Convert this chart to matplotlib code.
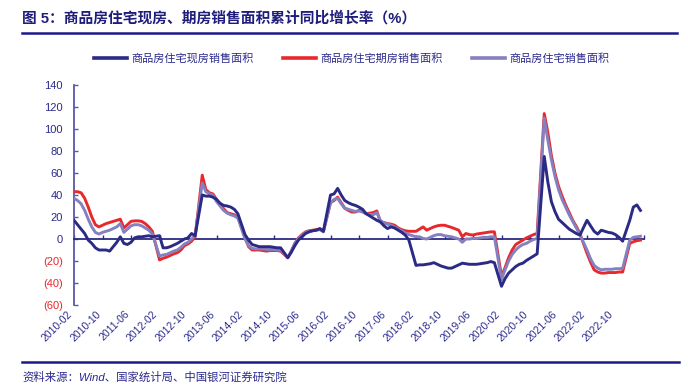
import numpy as np
import pandas as pd
import matplotlib
matplotlib.use('Agg')
import matplotlib.pyplot as plt

plt.rcParams['font.family'] = ['Liberation Sans', 'Noto Sans CJK SC']
plt.rcParams['axes.unicode_minus'] = False

# monthly data, Jan is not published (Jan-Feb combined), so Feb..Dec per year
months = [m for m in pd.period_range('2010-02', '2023-05', freq='M') if m.month != 1]

xianfang = [  # 商品房住宅现房销售面积
    17, 13, 9, 5, -1, -4, -8, -10, -10, -10, -11,            # 2010
    -3, 2, -4, -5, -3, 1, 2, 2, 2.5, 3, 2,                    # 2011
    3, -8, -8, -7, -5.5, -4, -2, 0, 1, 5, 3,                  # 2012
    40, 39, 39, 38, 36, 32.5, 30.5, 30, 29, 27, 23,           # 2013
    4, -1, -5, -6, -7, -7, -7, -7, -7.5, -8, -8,              # 2014
    -17, -12, -6, -1, 2, 5, 6.5, 7.5, 8, 9.5, 7,              # 2015
    40, 41, 46, 40, 35, 33, 31.5, 30.5, 29, 27, 23,           # 2016
    19, 17, 15.5, 12, 9.5, 11, 10, 8, 6, 3.5, -1,             # 2017
    -24, -23.5, -23.5, -23, -22.5, -21.5, -23, -24.5, -25.5, -26.5, -26.5,  # 2018
    -23.5, -22, -22.5, -23, -23, -23, -22.5, -22, -21.5, -20.5, -21.5,      # 2019
    -43, -36, -31, -28, -25, -23, -22, -19.5, -17.5, -15.5, -13.5,          # 2020
    75, 52, 34, 25, 18, 15, 12, 9, 7, 5, 3.5,                 # 2021
    17, 12, 7, 4.5, 8, 7, 6, 5.5, 4, 1.5, -2,                 # 2022
    17, 29, 31, 26,                                           # 2023
]
qifang = [  # 商品房住宅期房销售面积
    43, 43, 42, 37, 29, 20, 13, 11, 12.5, 14, 15,
    17, 18, 10, 13, 16, 16.5, 16.5, 16, 14, 11, 7,
    -19, -17.5, -16.5, -15, -13.5, -12.5, -10, -6, -4.5, -2, 2,
    58, 45, 42, 41, 36, 31, 27.5, 24, 23, 22, 20,
    2, -7, -10, -10, -10, -10.5, -11, -10.5, -10.5, -10.5, -11,
    -17, -11, -4, 1, 4, 6.5, 7.5, 8, 8.5, 9, 7,
    33, 35, 38, 33, 28, 26, 24.5, 24.5, 26, 25.5, 23,
    24, 25.5, 15.5, 15, 14, 13.5, 12.5, 10, 8.5, 7.5, 7,
    7, 9, 11, 8, 9.5, 11, 12, 12.5, 12.5, 11.5, 10.5,
    8, 2, 5, 4, 3.6, 4.5, 5, 5.5, 6, 6.5, 6.5,
    -34, -26, -17, -10, -5, -3, -1, 1, 2.5, 4, 5,
    114, 97, 76, 60, 48, 39, 31, 24, 17, 11.5, 5,
    -13, -21, -28, -30, -31, -31, -30.5, -30.5, -30.5, -30, -30,
    -4, -2.5, -1.5, -1,
]
zhuzhai = [  # 商品房住宅销售面积
    37, 35, 32, 26, 18, 11, 6, 4.5, 6, 7, 8,
    11, 14, 6, 9, 12, 13, 13, 12, 10, 8, 4.5,
    -15.5, -14.5, -14, -12.5, -11, -10, -7.5, -4.5, -3, 0, 3.5,
    51, 43, 41, 40, 34, 30, 26, 23.5, 22, 21, 19,
    0, -6, -8.5, -9, -9, -9, -9.5, -9.5, -9.5, -10, -10,
    -17, -11, -4, 0.5, 3.5, 6, 7, 7.5, 8, 8.5, 6.5,
    33, 36, 37, 32, 28, 27, 26, 25, 25.5, 24.5, 23,
    22, 24, 17, 14.5, 13.5, 12.5, 11, 9, 7.5, 5.5, 4,
    2, 2, 0.5, 0, 1.5, 3, 4, 4, 3, 2.5, 2,
    0, -3, 0, 0, 0.5, 0.5, 1, 1.5, 1.5, 2, 2,
    -37, -28, -20, -14, -10, -7, -5, -4, -2, -0.5, 0.5,
    110, 90, 72, 57, 45, 36, 29, 22, 16, 10, 4,
    -10, -18, -24, -26.5, -28, -27.5, -27.5, -27.5, -27, -27, -26.7,
    -1, 1.5, 2, 2.5,
]
names = ['商品房住宅现房销售面积', '商品房住宅期房销售面积', '商品房住宅销售面积']
tick_step = 8
yticks = [-60, -40, -20, 0, 20, 40, 60, 80, 100, 120, 140]

navy = '#2b2a84'
red = '#e8282c'
lav = '#8580bf'
axcol = '#5b57a8'
txtcol = '#2b2a8c'

# month index from 2010-02
x = np.array([(m.year - 2010) * 12 + m.month - 2 for m in months])
nmax = 160

fig = plt.figure(figsize=(6.88, 3.87), dpi=100)
ax = fig.add_axes((74/688, 1-305/387, (644-74)/688, (305-85)/387))

ax.plot(x, qifang, color=red, lw=2.1, zorder=3)
ax.plot(x, zhuzhai, color=lav, lw=2.1, zorder=4)
ax.plot(x, xianfang, color=navy, lw=2.1, zorder=5)

ax.set_xlim(0, nmax)
ax.set_ylim(-60, 140)

ax.spines['top'].set_visible(False)
ax.spines['right'].set_visible(False)
ax.spines['left'].set_color(axcol)
ax.spines['left'].set_linewidth(1.3)
ax.spines['bottom'].set_position(('data', 0))
ax.spines['bottom'].set_color(navy)
ax.spines['bottom'].set_linewidth(1.3)

xt = np.arange(0, nmax + 1, tick_step)
ax.set_xticks(xt)
ax.tick_params(axis='x', direction='in', length=3, width=1, color=navy, labelbottom=False)

ax.set_yticks(yticks)
ylabels = ['(%d)' % -v if v < 0 else '%d' % v for v in yticks]
ax.set_yticklabels(ylabels, fontsize=8)
ax.tick_params(axis='y', direction='in', length=3, width=1, color=axcol, pad=8)
for t, v in zip(ax.get_yticklabels(), yticks):
    t.set_color(red if v < 0 else txtcol)

# date labels along the bottom of the plot area
sec = ax.secondary_xaxis('bottom')
lab_ticks = xt[:-1]
lab_text = [str(months[list(x).index(i)] if i in x else '') for i in lab_ticks]
sec.set_xticks(lab_ticks)
sec.set_xticklabels(lab_text, rotation=45, ha='right', fontsize=7.5, color=txtcol)
sec.spines['bottom'].set_visible(False)
sec.tick_params(length=0, pad=3)

# title + rules
fig.text(22/688, 1-18/387, '图 5：商品房住宅现房、期房销售面积累计同比增长率（%）',
         fontsize=10.6, fontweight='bold', color='#1f1c7c', va='center', ha='left')
fig.add_artist(plt.Line2D([22/688, 677/688], [1-33/387, 1-33/387], color='#1c1a8a', lw=1.8))
fig.add_artist(plt.Line2D([22/688, 679/688], [1-362/387, 1-362/387], color='#1c1a8a', lw=1.8))
fig.text(22/688, 1-377/387, '资料来源：Wind、国家统计局、中国银河证券研究院',
         fontsize=8.2, color=txtcol, style='italic', va='center', ha='left')

handles = [plt.Line2D([], [], color=c, lw=2.6) for c in (navy, red, lav)]
leg = fig.legend(handles, names, loc='center', bbox_to_anchor=(352/688, 1-58/387), ncol=3,
                 frameon=False, fontsize=8, handlelength=3.0, columnspacing=2.6, handletextpad=0.4)
for t in leg.get_texts():
    t.set_color(txtcol)

fig.savefig('out.png', dpi=100)
